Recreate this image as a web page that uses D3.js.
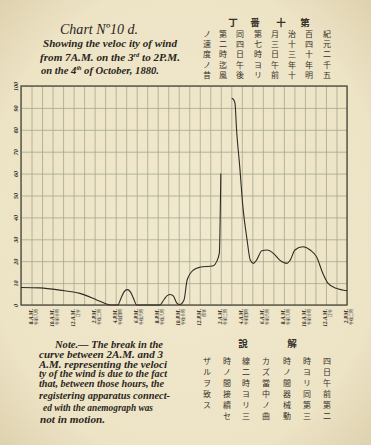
<!DOCTYPE html>
<html lang="ja">
<head>
<meta charset="UTF-8">
<title>Chart No 10 d</title>
<script src="https://d3js.org/d3.v7.min.js"></script>
<style>
  body { margin: 0; background: #ece4ca; }
  svg { display: block; }
  .en { font-family: "Liberation Serif", "DejaVu Serif", serif; font-style: italic; fill: #2a2620; }
  .jp { font-family: "Noto Sans CJK JP", sans-serif; fill: #36312a; }
</style>
</head>
<body>
<svg width="371" height="445"></svg>
<script>
// hours after 7 A.M. on the 3rd, wind velocity
// curve before the break (7 A.M. to 2 A.M.)
const hoursA = [0, 1.8, 3.7, 5.6, 7.2, 8.0, 8.5, 9.2, 9.5, 9.8, 10.1, 10.4, 10.7, 11.0, 13.2, 13.6, 13.9, 14.2, 14.5, 14.8, 15.1, 15.5, 15.8, 16.4, 17.0, 18.3, 18.6, 18.86, 19.0];
const speedA = [8, 7.8, 6.8, 5.3, 2.3, 0.7, 0, 0, 3, 6, 7, 6, 3, 0, 0, 2.5, 4.3, 4.8, 4, 1, 0.2, 2.3, 11.4, 16, 17.2, 17.9, 19.8, 23.7, 60];
// curve after the break (3 A.M. to 2 P.M.)
const hoursB = [20.04, 20.2, 20.35, 20.5, 20.8, 21.1, 21.5, 21.8, 22.1, 22.4, 22.9, 23.4, 24.0, 24.6, 25.3, 25.6, 26.05, 26.8, 27.5, 28.1, 28.7, 29.2, 30.0, 31.0];
const speedB = [94.4, 93.9, 92.1, 79.9, 63.2, 44.9, 29.7, 20.5, 19, 20.5, 24.8, 25.1, 23.6, 20.5, 19, 20.5, 25.1, 26.6, 25.1, 22, 14.5, 9.9, 7.6, 6.5];

const yTicks = [0, 10, 20, 30, 40, 50, 60, 70, 80, 90, 100];
const xTickHours = [1, 3, 5, 7, 9, 11, 13, 15, 17, 19, 21, 23, 25, 27, 29, 31];
const xTickEn = ["8.A.M.", "10.A.M.", "12.A.M.", "2.P.M.", "4.P.M.", "6.P.M.", "8.P.M.", "10.P.M.", "12.P.M.", "2.A.M.", "4.A.M.", "6.A.M.", "8.A.M.", "10.A.M.", "12.A.M.", "2.P.M."];
const xTickJp = ["午前八時", "午前十時", "正午", "午後二時", "午後四時", "午後六時", "午後八時", "午後十時", "夜半", "午前二時", "午前四時", "午前六時", "午前八時", "午前十時", "正午", "午後二時"];

const titleJp = ["丁", "番", "十", "第"];
const colsTop = ["紀元二千五", "百四十年明", "治十三年十", "月三日午前", "第七時ヨリ", "同四日午後", "第二時迄風", "ノ速度ノ昔"];
const headBottom = ["說", "解"];
const colsBottom = ["四日午前第二", "時ヨリ同第三", "時ノ間器械動", "カズ當中ノ曲", "線二時ヨリ三", "時ノ間接續セ", "ザルヲ致ス"];

const noteLines = [
  "Note.\u2014 The break in the",
  "curve between 2A.M. and 3",
  "A.M. representing the veloci",
  "ty of the wind is due to the fact",
  "that, between those hours, the",
  "registering apparatus connect-",
  "ed with the anemograph was",
  "not in motion."
];

const svg = d3.select("svg");

// paper
const defs = svg.append("defs");
const grad = defs.append("radialGradient").attr("id", "paper").attr("cx", "50%").attr("cy", "50%").attr("r", "72%");
grad.append("stop").attr("offset", "0%").attr("stop-color", "#f1e9cf");
grad.append("stop").attr("offset", "75%").attr("stop-color", "#ede3c5");
grad.append("stop").attr("offset", "100%").attr("stop-color", "#ddd0ad");
svg.append("rect").attr("width", 371).attr("height", 445).attr("fill", "url(#paper)");

const x = d3.scaleLinear().domain([0, 31]).range([21, 347]);
const y = d3.scaleLinear().domain([0, 100]).range([305, 86]);

// grid
svg.append("g")
    .attr("transform", "translate(0,305)")
    .call(d3.axisBottom(x).tickValues(d3.range(0, 32)).tickSize(-219).tickFormat(""))
    .call(g => g.select(".domain").remove())
    .call(g => g.selectAll("line").attr("stroke", "#a3a88b").attr("stroke-width", 0.8));

svg.append("g")
    .attr("transform", "translate(21,0)")
    .call(d3.axisLeft(y).tickValues(yTicks).tickSize(-326).tickFormat(""))
    .call(g => g.select(".domain").remove())
    .call(g => g.selectAll("line").attr("stroke", "#a3a88b").attr("stroke-width", 0.8));

// frame
svg.append("rect")
    .attr("x", x(0)).attr("y", y(100))
    .attr("width", x(31) - x(0)).attr("height", y(0) - y(100))
    .attr("fill", "none").attr("stroke", "#4d4a3e").attr("stroke-width", 1.3);

// y labels
svg.append("g")
    .attr("transform", "translate(21,0)")
    .call(d3.axisLeft(y).tickValues(yTicks).tickSize(0).tickPadding(0))
    .call(g => g.select(".domain").remove())
    .call(g => g.selectAll("text")
        .attr("x", null).attr("dy", null)
        .attr("transform", "translate(-3,0) rotate(-90)")
        .attr("text-anchor", "middle")
        .attr("class", "en")
        .attr("font-size", 6)
        .attr("font-weight", "bold"));

// x labels
const xl = svg.append("g")
    .attr("transform", "translate(0,305)")
    .call(d3.axisBottom(x).tickValues(xTickHours).tickSize(0).tickFormat(""))
    .call(g => g.select(".domain").remove());
xl.selectAll(".tick").each(function(d, i) {
  const t = d3.select(this);
  t.append("text").attr("class", "en")
      .attr("transform", "translate(0.6,4) rotate(-90)")
      .attr("text-anchor", "end")
      .attr("font-size", 5.4).attr("font-weight", "bold")
      .text(xTickEn[i]);
  t.append("text").attr("class", "jp")
      .attr("transform", "translate(5.6,4) rotate(-90)")
      .attr("text-anchor", "end")
      .attr("font-size", 4)
      .text(xTickJp[i]);
});

// velocity curve
const line = d3.line()
    .x(d => x(d[0]))
    .y(d => y(d[1]))
    .curve(d3.curveMonotoneX);

svg.append("path")
    .datum(d3.zip(hoursA, speedA))
    .attr("d", line)
    .attr("fill", "none").attr("stroke", "#2f2c25").attr("stroke-width", 1.1);
svg.append("path")
    .datum(d3.zip(hoursB, speedB))
    .attr("d", line)
    .attr("fill", "none").attr("stroke", "#2f2c25").attr("stroke-width", 1.1);

// English title
svg.append("text").attr("class", "en")
    .attr("x", 60).attr("y", 34)
    .attr("font-size", 15)
    .attr("textLength", 78).attr("lengthAdjust", "spacingAndGlyphs")
    .text("Chart N\u00BA10 d.");

const sub = svg.append("g").attr("class", "en").attr("font-size", 10.5).attr("font-weight", "bold");
sub.append("text").attr("x", 43).attr("y", 47)
    .attr("textLength", 134).attr("lengthAdjust", "spacingAndGlyphs")
    .text("Showing the veloc ity of wind");
const l2 = sub.append("text").attr("x", 40).attr("y", 61)
    .attr("textLength", 140).attr("lengthAdjust", "spacingAndGlyphs");
l2.append("tspan").text("from 7A.M. on the 3");
l2.append("tspan").attr("font-size", 6).attr("dy", -4).text("rd");
l2.append("tspan").attr("dy", 4).text(" to 2P.M.");
const l3 = sub.append("text").attr("x", 41).attr("y", 74)
    .attr("textLength", 118).attr("lengthAdjust", "spacingAndGlyphs");
l3.append("tspan").text("on the 4");
l3.append("tspan").attr("font-size", 6).attr("dy", -4).text("th");
l3.append("tspan").attr("dy", 4).text(" of October, 1880.");

// vertical Japanese column, one text per column
function column(g, str, cx, top, size, step) {
  g.append("text").attr("class", "jp")
      .attr("writing-mode", "vertical-rl")
      .attr("x", cx).attr("y", top)
      .attr("font-size", size)
      .attr("letter-spacing", step - size)
      .text(str);
}

// Japanese heading and columns (top right)
const titleX = [233, 255, 281, 305];
svg.append("g").selectAll("text").data(titleJp).join("text")
    .attr("class", "jp").attr("font-size", 9.5).attr("font-weight", "bold")
    .attr("x", (d, i) => titleX[i]).attr("y", 26)
    .attr("text-anchor", "middle")
    .text(d => d);

const topColX = [327, 309, 292, 275, 258, 240, 223, 207];
const gTop = svg.append("g");
colsTop.forEach((col, ci) => column(gTop, col, topColX[ci], 30, 8, 10.2));

// Note (English)
const noteX = [55, 39, 39, 39, 39, 39, 43, 40];
const noteW = [108, 124, 128, 128, 125, 131, 110, 65];
const noteY = [348, 358, 367.5, 377, 387, 399, 411, 423];
svg.append("g").selectAll("text").data(noteLines).join("text")
    .attr("class", "en").attr("font-size", 10).attr("font-weight", "bold")
    .attr("x", (d, i) => noteX[i]).attr("y", (d, i) => noteY[i])
    .attr("textLength", (d, i) => noteW[i]).attr("lengthAdjust", "spacingAndGlyphs")
    .text(d => d);

// Japanese note (bottom right)
const headBX = [243, 292];
svg.append("g").selectAll("text").data(headBottom).join("text")
    .attr("class", "jp").attr("font-size", 9.5).attr("font-weight", "bold")
    .attr("x", (d, i) => headBX[i]).attr("y", 347)
    .attr("text-anchor", "middle")
    .text(d => d);

const botColX = [327, 307, 287, 266, 246, 227, 207];
const gBot = svg.append("g");
colsBottom.forEach((col, ci) => column(gBot, col, botColX[ci], 357, 8, 11));
</script>
</body>
</html>
